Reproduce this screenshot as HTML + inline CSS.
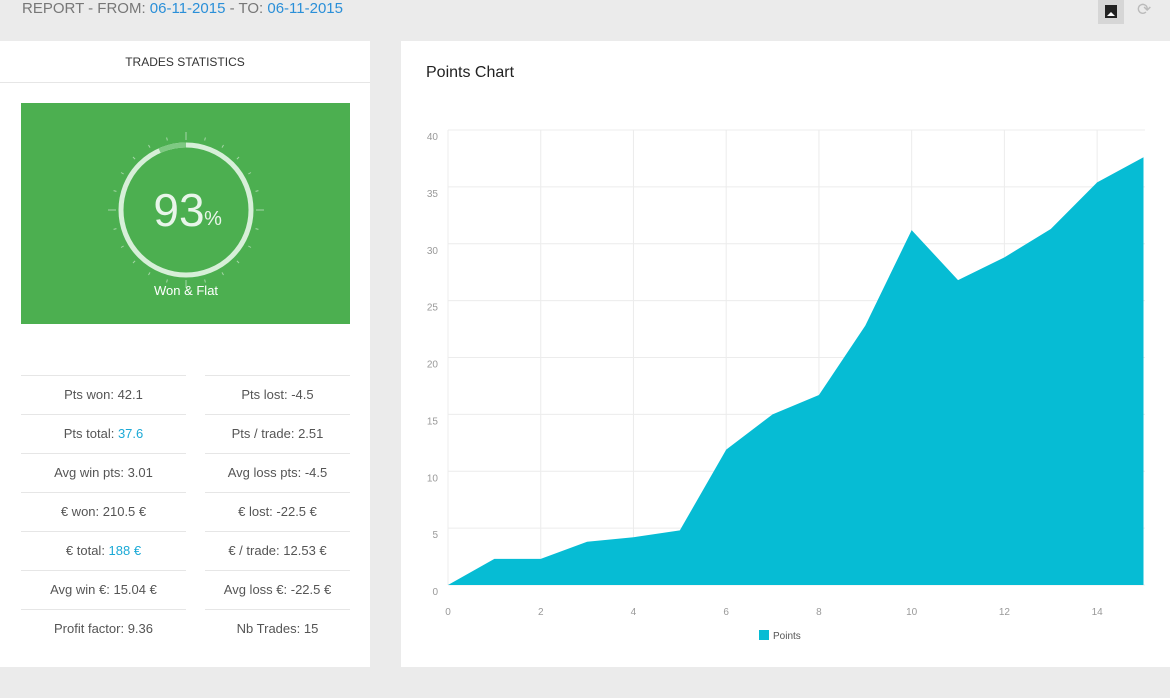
<!DOCTYPE html>
<html><head><meta charset="utf-8"><style>
body{margin:0;width:1170px;height:698px;background:#ebebeb;font-family:"Liberation Sans",sans-serif;position:relative;overflow:hidden}
.abs{position:absolute}
.row{position:absolute;height:38px;line-height:38px;font-size:13px;color:#555;text-align:center;border-top:1px solid #e6e6e6}
.blue{color:#1ba9d6}
</style></head><body>
<div class="abs" style="left:22px;top:0;font-size:15px;color:#777;line-height:18px">REPORT - FROM: <span style="color:#2a8fd8">06-11-2015</span> - TO: <span style="color:#2a8fd8">06-11-2015</span></div>
<div class="abs" style="left:1098px;top:0;width:26px;height:24px;background:#d6d6d6"><div style="position:absolute;left:7px;top:5px;width:12px;height:13px;background:#222"></div><div style="position:absolute;left:9px;top:12px;width:0;height:0;border-left:4px solid transparent;border-right:4px solid transparent;border-bottom:4px solid #fff"></div></div>
<div class="abs" style="left:1137px;top:0;font-size:17px;color:#bbb">⟳</div>

<div class="abs" style="left:0;top:41px;width:370px;height:626px;background:#fff">
 <div class="abs" style="left:0;top:0;width:370px;height:41px;line-height:42px;text-align:center;font-size:12px;color:#333;border-bottom:1px solid #e6e6e6">TRADES STATISTICS</div>
 <div class="abs" style="left:21px;top:62px;width:329px;height:221px;background:#4caf50">
  <svg width="329" height="221">
   <g id="ticks"></g>
   <circle cx="165" cy="107" r="65" fill="none" stroke="#d7efd8" stroke-width="5"/>
   <path d="M 165 42 A 65 65 0 0 0 138.6 47.6" fill="none" stroke="#7ec982" stroke-width="5"/>
   <text x="158" y="123" text-anchor="middle" font-size="46" fill="#e8f5e9" font-weight="300" font-family="Liberation Sans">93</text>
   <text x="192" y="122" text-anchor="middle" font-size="20" fill="#e8f5e9" font-family="Liberation Sans">%</text>
   <text x="165" y="192" text-anchor="middle" font-size="13" fill="#fff" font-family="Liberation Sans">Won &amp; Flat</text>
  </svg>
 </div>
 <div id="rows"></div>
</div>

<div class="abs" style="left:401px;top:41px;width:769px;height:626px;background:#fff">
 <div class="abs" style="left:25px;top:23px;font-size:16px;color:#222">Points Chart</div>
</div>
<svg class="abs" style="left:0;top:0" width="1170" height="698" id="chart"></svg>

<script>
// gauge ticks
var tg=document.getElementById('ticks');
for(var i=0;i<24;i++){var a=i*15*Math.PI/180;var big=i%6==0;var r1=big?70:72,r2=big?78:75;
var l=document.createElementNS('http://www.w3.org/2000/svg','line');
l.setAttribute('x1',165+r1*Math.sin(a));l.setAttribute('y1',107-r1*Math.cos(a));l.setAttribute('x2',165+r2*Math.sin(a));l.setAttribute('y2',107-r2*Math.cos(a));
l.setAttribute('stroke','#a5d6a7');l.setAttribute('stroke-width','1');


tg.appendChild(l);}
// stats rows
var statsLeft=['Pts won: 42.1','Pts total: <span class="blue">37.6</span>','Avg win pts: 3.01','€ won: 210.5 €','€ total: <span class="blue">188 €</span>','Avg win €: 15.04 €','Profit factor: 9.36'];
var statsRight=['Pts lost: -4.5','Pts / trade: 2.51','Avg loss pts: -4.5','€ lost: -22.5 €','€ / trade: 12.53 €','Avg loss €: -22.5 €','Nb Trades: 15'];
var rows=document.getElementById('rows');
for(var i=0;i<7;i++){
 var d=document.createElement('div');d.className='row';d.style.left='21px';d.style.width='165px';d.style.top=(334+i*39)+'px';d.innerHTML=statsLeft[i];
 
 
 rows.appendChild(d);
 var e=document.createElement('div');e.className='row';e.style.left='205px';e.style.width='145px';e.style.top=(334+i*39)+'px';e.innerHTML=statsRight[i];
 
 
 rows.appendChild(e);
}
</script>
<script>
var xValues=[0,1,2,3,4,5,6,7,8,9,10,11,12,13,14,15];
var pointsValues=[0,2.3,2.3,3.8,4.2,4.8,11.9,15.0,16.7,22.8,31.2,26.8,28.8,31.3,35.4,37.6];
var yTicks=[0,5,10,15,20,25,30,35,40];
var xTicks=[0,2,4,6,8,10,12,14];
var svg=document.getElementById('chart');var NS='http://www.w3.org/2000/svg';
function X(v){return 448+v*(1143.5-448)/15;}
function Y(v){return 585-v*(585-130)/40;}
function mk(t,a){var e=document.createElementNS(NS,t);for(var k in a)e.setAttribute(k,a[k]);svg.appendChild(e);return e;}
yTicks.forEach(function(t){
 var g=mk('line',{x1:448,x2:1145,y1:Y(t),y2:Y(t),stroke:'#ececec'});
 
 
 var l=mk('text',{x:438,y:Y(t)+10,'text-anchor':'end','font-size':10,fill:'#999','font-family':'Liberation Sans'});l.textContent=t;
 
 
});
xTicks.forEach(function(t){
 var g=mk('line',{x1:X(t),x2:X(t),y1:130,y2:585,stroke:'#ececec'});
 
 
 var l=mk('text',{x:X(t),y:615,'text-anchor':'middle','font-size':10,fill:'#999','font-family':'Liberation Sans'});l.textContent=t;
 
 
});
var d='M'+X(xValues[0])+' '+Y(0);
xValues.forEach(function(x,i){d+=' L'+X(x)+' '+Y(pointsValues[i]);});
d+=' L'+X(xValues[xValues.length-1])+' '+Y(0)+' Z';
var area=mk('path',{d:d,fill:'#06bcd4'});


var lr=mk('rect',{x:759,y:630,width:10,height:10,fill:'#06bcd4'});


var lt=mk('text',{x:773,y:639,'font-size':10,fill:'#555','font-family':'Liberation Sans'});lt.textContent='Points';


</script>
</body></html>
